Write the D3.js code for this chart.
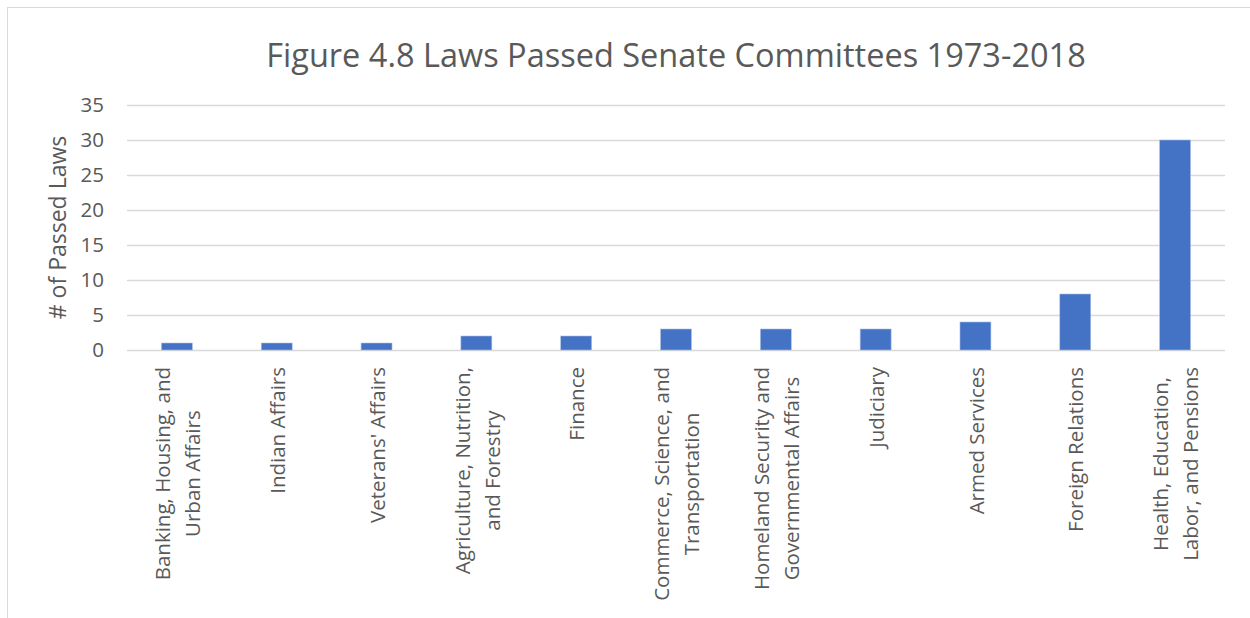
<!DOCTYPE html>
<html>
<head>
<meta charset="utf-8">
<script src="https://cdn.jsdelivr.net/npm/d3@7"></script>
<style>
  html, body { margin: 0; padding: 0; background: #fff; }
  svg { display: block; }
  text { font-family: "Open Sans", "Noto Sans", sans-serif; fill: #595959; }
</style>
</head>
<body>
<svg id="chart" width="1250" height="618"></svg>
<script>
// Senate committees, each label split into its display lines
const committees = [
  ["Banking, Housing, and", "Urban Affairs"],
  ["Indian Affairs"],
  ["Veterans' Affairs"],
  ["Agriculture, Nutrition,", "and Forestry"],
  ["Finance"],
  ["Commerce, Science, and", "Transportation"],
  ["Homeland Security and", "Governmental Affairs"],
  ["Judiciary"],
  ["Armed Services"],
  ["Foreign Relations"],
  ["Health, Education,", "Labor, and Pensions"]
];
const passedLaws = [1, 1, 1, 2, 2, 3, 3, 3, 4, 8, 30];
const yTicks = [0, 5, 10, 15, 20, 25, 30, 35];

const titleText = "Figure 4.8 Laws Passed Senate Committees 1973-2018";
const yTitleText = "# of Passed Laws";

const svg = d3.select("#chart");
const W = 1250, H = 618;
const plot = { left: 127, right: 1225, top: 105, bottom: 350 };

// chart frame
svg.append("rect")
  .attr("x", 7.5).attr("y", 7.5)
  .attr("width", W + 10).attr("height", H + 10)
  .attr("fill", "#fff").attr("stroke", "#d9d9d9").attr("stroke-width", 1);

const x = d3.scaleBand()
  .domain(committees.map((d, i) => i))
  .range([plot.left, plot.right])
  .paddingInner(0.69).paddingOuter(0.345);

const y = d3.scaleLinear().domain([0, 35]).range([plot.bottom, plot.top]);

// horizontal gridlines
svg.append("g")
  .selectAll("line")
  .data(yTicks)
  .join("line")
  .attr("x1", plot.left).attr("x2", plot.right)
  .attr("y1", d => Math.round(y(d)) + 0.5).attr("y2", d => Math.round(y(d)) + 0.5)
  .attr("stroke", "#d9d9d9").attr("stroke-width", 1.5);

// y axis tick labels
const yAxis = d3.axisLeft(y).tickValues(yTicks).tickSize(0).tickPadding(0);
const gy = svg.append("g").attr("transform", `translate(104,0)`).call(yAxis);
gy.select(".domain").remove();
gy.selectAll("text")
  .attr("font-size", 20.5)
  .attr("font-family", "'Open Sans', sans-serif")
  .attr("fill", "#595959")
  .attr("dy", "0.34em");

// bars
svg.append("g")
  .selectAll("rect")
  .data(passedLaws)
  .join("rect")
  .attr("x", (d, i) => x(i))
  .attr("width", x.bandwidth())
  .attr("y", d => y(d))
  .attr("height", d => y(0) - y(d))
  .attr("fill", "#4472c4")
  .attr("stroke", "#a9c0e8")
  .attr("stroke-width", 0.6);

// rotated category labels: lines centered on each other, block ends at y=367
const lineGap = 30;
const labels = svg.append("g");
committees.forEach((lines, i) => {
  const cx = x(i) + x.bandwidth() / 2 + 1;
  const n = lines.length;
  const g = labels.append("g").attr("transform", `translate(${cx},367) rotate(-90)`);
  const texts = lines.map((line, j) =>
    g.append("text")
      .attr("x", 0)
      .attr("y", (j - (n - 1) / 2) * lineGap)
      .attr("dy", "0.35em")
      .attr("text-anchor", "middle")
      .attr("font-size", 20.5)
      .text(line));
  const maxW = d3.max(texts, t => t.node().getComputedTextLength());
  texts.forEach(t => t.attr("x", -maxW / 2));
});

// title
svg.append("text")
  .attr("x", (plot.left + plot.right) / 2)
  .attr("y", 67)
  .attr("text-anchor", "middle")
  .attr("font-size", 32.5)
  .text(titleText);

// y axis title
svg.append("text")
  .attr("transform", `translate(66,${(plot.top + plot.bottom) / 2}) rotate(-90)`)
  .attr("text-anchor", "middle")
  .attr("font-size", 23)
  .text(yTitleText);
</script>
</body>
</html>
